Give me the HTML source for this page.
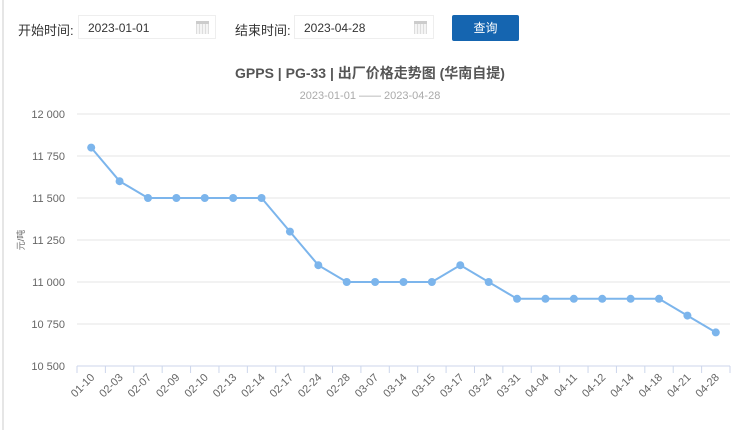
<!DOCTYPE html>
<html><head><meta charset="utf-8"><style>
body{margin:0;width:740px;height:430px;background:#fff;font-family:"Liberation Sans","Noto Sans CJK SC",sans-serif;overflow:hidden;position:relative}
.lbl{position:absolute;top:20px;font-size:13px;color:#333}
.inp{position:absolute;top:15px;height:24px;border:1px solid #eee;font-size:12px;color:#333;line-height:24px;padding-left:9px;box-sizing:border-box}
.cal{position:absolute;right:6px;top:5px;width:13px;height:13px;background:repeating-linear-gradient(90deg,#ddd 0 1px,#f4f4f4 1px 3px);border-top:3px solid #ccc;box-sizing:border-box}
.btn{position:absolute;left:452px;top:15px;width:67px;height:26px;background:#1565b0;color:#fff;font-size:12px;text-align:center;line-height:26px;border-radius:2px}
</style></head><body>
<div style="position:absolute;left:2px;top:0;width:2px;height:430px;background:#e6e6e6"></div>
<div class="lbl" style="left:18px">开始时间:</div>
<div class="inp" style="left:78px;width:138px">2023-01-01<span class="cal"></span></div>
<div class="lbl" style="left:235px">结束时间:</div>
<div class="inp" style="left:294px;width:140px">2023-04-28<span class="cal"></span></div>
<div class="btn">查询</div>
<svg id="chart" width="740" height="430" style="position:absolute;left:0;top:0">
<text x="370" y="78" text-anchor="middle" font-size="14" font-weight="bold" fill="#555">GPPS | PG-33 | 出厂价格走势图 (华南自提)</text>
<text x="370" y="99" text-anchor="middle" font-size="11" fill="#aaa">2023-01-01 —— 2023-04-28</text>
<text transform="translate(24,240) rotate(-90)" text-anchor="middle" font-size="9" fill="#666">元/吨</text>
</svg>
<script>
const categories=["01-10","02-03","02-07","02-09","02-10","02-13","02-14","02-17","02-24","02-28","03-07","03-14","03-15","03-17","03-24","03-31","04-04","04-11","04-12","04-14","04-18","04-21","04-28"];
const prices=[11800,11600,11500,11500,11500,11500,11500,11300,11100,11000,11000,11000,11000,11100,11000,10900,10900,10900,10900,10900,10900,10800,10700];
const yTicks=[10500,10750,11000,11250,11500,11750,12000];
const yTickLabels=["10 500","10 750","11 000","11 250","11 500","11 750","12 000"];
const svg=document.getElementById('chart');const NS='http://www.w3.org/2000/svg';
const L=77,R=730,T=114,B=366,ymin=10500,ymax=12000;
const bw=(R-L)/categories.length;
const xs=i=>L+bw*(i+0.5);
const ys=v=>B-(v-ymin)/(ymax-ymin)*(B-T);
function mk(t,a){const e=document.createElementNS(NS,t);for(const k in a)e.setAttribute(k,a[k]);svg.appendChild(e);return e;}
yTicks.forEach((v,i)=>{
 const g=mk('line',{x1:L,x2:R,y1:ys(v),y2:ys(v),stroke:i==0?'#ccd6eb':'#e6e6e6','stroke-width':1});
 
 
 const t=mk('text',{x:L-12,y:ys(v)+4,'text-anchor':'end','font-size':11,fill:'#666'});t.textContent=yTickLabels[i];
 
 
});
for(let i=0;i<=categories.length;i++){
 const tk=mk('line',{x1:L+bw*i,x2:L+bw*i,y1:B,y2:B+7,stroke:'#ccd6eb'});
 
 
}
categories.forEach((c,i)=>{
 const x=xs(i)+4,y=B+12;
 const t=mk('text',{x:x,y:y,'text-anchor':'end','font-size':11,fill:'#666',transform:`rotate(-45 ${x} ${y})`});t.textContent=c;
 
 
});
const pl=mk('polyline',{points:prices.map((v,i)=>xs(i)+','+ys(v)).join(' '),fill:'none',stroke:'#7cb5ec','stroke-width':2});


prices.forEach((v,i)=>{
 const c=mk('circle',{cx:xs(i),cy:ys(v),r:4,fill:'#7cb5ec'});
 
 
});
</script>
</body></html>
